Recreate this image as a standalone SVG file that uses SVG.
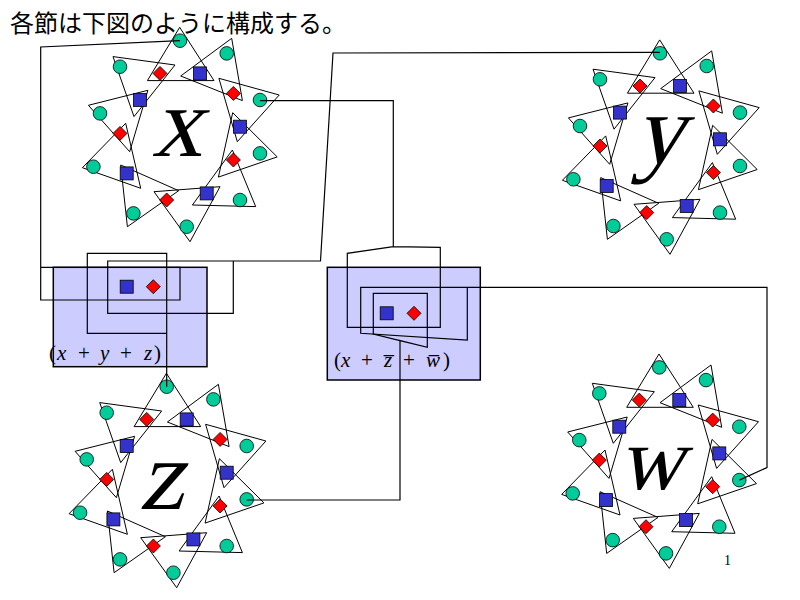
<svg xmlns="http://www.w3.org/2000/svg" xmlns:xlink="http://www.w3.org/1999/xlink" width="800" height="600" viewBox="0 0 800 600">
<style>
.tri{fill:none;stroke:#000;stroke-width:1}
.cir{fill:#00CC99;stroke:#000;stroke-width:0.8}
.sq{fill:#3333CC;stroke:#000;stroke-width:0.8}
.dia{fill:#FF0000;stroke:#000;stroke-width:0.8}
.box{fill:#CCCCFF;stroke:#000;stroke-width:1.5}
.con{fill:none;stroke:#000;stroke-width:1.2}
.big{font-family:"Liberation Serif",serif;font-size:100px;text-anchor:middle;fill:#000}
.lab{font-family:"Liberation Serif",serif;font-size:21px;fill:#000}
.it{font-style:italic}
.title{font-family:"Noto Sans CJK JP","Noto Sans CJK SC",sans-serif;font-size:24px;fill:#000}
.pg{font-family:"Liberation Serif",serif;font-size:14px;fill:#000}
</style>
<defs>
<rect id="sqm" class="sq" x="-6.5" y="-6.5" width="13" height="13"/>
<path id="dim" class="dia" d="M0,-7 L7,0 L0,7 L-7,0 Z"/>
<g id="star">
<g class="tri">
<polygon points="-3,-105.4 -35.3,-52.1 31.3,-52.1"/>
<polygon points="49,-94.4 -2,-56.7 59.7,-32.1"/>
<polygon points="96.5,-37.7 36.2,-54.4 54.6,9"/>
<polygon points="94.5,24.2 50,-20 35.7,44.4"/>
<polygon points="73,73.9 49.7,17.3 9.7,72.3"/>
<polygon points="7.3,109 37.3,54 -28.7,59"/>
<polygon points="-55.3,94 -4,58 -62,32.3"/>
<polygon points="-100.3,35 -42,55.6 -57,-9.4"/>
<polygon points="-94.3,-27.4 -34.8,-42.4 -53,19"/>
<polygon points="-69.7,-76.1 -7.7,-67.7 -48.7,-16.1"/>
</g>
<circle class="cir" cx="-2.7" cy="-92" r="6.8"/>
<circle class="cir" cx="44" cy="-79.3" r="6.8"/>
<circle class="cir" cx="77.3" cy="-32.7" r="6.8"/>
<circle class="cir" cx="77.3" cy="20.7" r="6.8"/>
<circle class="cir" cx="57.3" cy="67.3" r="6.8"/>
<circle class="cir" cx="4" cy="94" r="6.8"/>
<circle class="cir" cx="-49.3" cy="80.7" r="6.8"/>
<circle class="cir" cx="-89.3" cy="34" r="6.8"/>
<circle class="cir" cx="-82.7" cy="-19.3" r="6.8"/>
<circle class="cir" cx="-62.7" cy="-66" r="6.8"/>
<use xlink:href="#dim" x="-22.7" y="-59.3"/>
<use xlink:href="#sqm" x="17.3" y="-59.3"/>
<use xlink:href="#dim" x="50.7" y="-39.3"/>
<use xlink:href="#sqm" x="57.3" y="-6"/>
<use xlink:href="#dim" x="50.7" y="27.3"/>
<use xlink:href="#sqm" x="24" y="60.7"/>
<use xlink:href="#dim" x="-16" y="67.3"/>
<use xlink:href="#sqm" x="-56" y="40.7"/>
<use xlink:href="#dim" x="-62.7" y="0.7"/>
<use xlink:href="#sqm" x="-42.7" y="-32.7"/>
</g>
</defs>
<rect width="800" height="600" fill="#fff"/>
<text class="title" x="10" y="32">各節は下図のように構成する。</text>

<g id="node-x">
<use xlink:href="#star" transform="translate(182.7,132.7)"/>
<text class="big" transform="translate(177,156) skewX(-14)">x</text>
</g>
<g id="node-y">
<use xlink:href="#star" transform="translate(662.7,145.3)"/>
<text class="big" transform="translate(659,163) skewX(-14)">y</text>
</g>
<g id="node-z">
<use xlink:href="#star" transform="translate(169.4,478.7)"/>
<text class="big" transform="translate(161,509) skewX(-14)">z</text>
</g>
<g id="node-w">
<use xlink:href="#star" transform="translate(662,459.4)"/>
<text class="big" style="font-size:90px" transform="translate(651,489) skewX(-14)">w</text>
</g>

<g id="box-xyz">
<rect class="box" x="53.3" y="267.3" width="153.7" height="99.4"/>
<use xlink:href="#sqm" x="126.7" y="286.7"/>
<use xlink:href="#dim" x="153.3" y="286.7"/>
<text class="lab" y="359.5"><tspan x="49">(</tspan><tspan class="it" x="57">x</tspan> <tspan x="78">+</tspan> <tspan class="it" x="100">y</tspan> <tspan x="120">+</tspan> <tspan class="it" x="144">z</tspan><tspan x="154">)</tspan></text>
</g>
<g id="box-xzw">
<rect class="box" x="327.3" y="267.3" width="153" height="112.7"/>
<use xlink:href="#sqm" x="386.7" y="313.3"/>
<use xlink:href="#dim" x="414" y="313.3"/>
<text class="lab" y="366.7"><tspan x="334">(</tspan><tspan class="it" x="341">x</tspan> <tspan x="361">+</tspan> <tspan class="it" x="384">z&#x305;</tspan> <tspan x="403">+</tspan> <tspan class="it" x="426">w&#x305;</tspan><tspan x="443">)</tspan></text>
</g>

<g id="connectors" class="con">
<polyline points="180,40.7 40.7,47 40.7,300 180,300 180,267.3 40.7,267.3"/>
<polyline points="166.7,386.7 166.7,253.3 87.3,253.3 87.3,333.3 166.7,333.3"/>
<polyline points="660,52.3 333,53 320.5,261 107.7,261 107.7,313.3 233.3,313.3 233.3,261"/>
<polyline points="260,100.7 393.3,100.7 393.3,246.7 440.3,247.3 440.3,327.3 347.3,327.3 347.3,253.3 393.3,246.7"/>
<polyline points="739.3,480.1 767,467.5 767,287.3 360.7,287.3 360.7,333.3 467.3,340 467.3,287.3"/>
<polyline points="246.7,500 400,500 400,340.6 427.3,347.3 427.3,293.3 373.3,293.3 373.3,334 400,340.6"/>
</g>

<text class="pg" x="724" y="565">1</text>
</svg>
